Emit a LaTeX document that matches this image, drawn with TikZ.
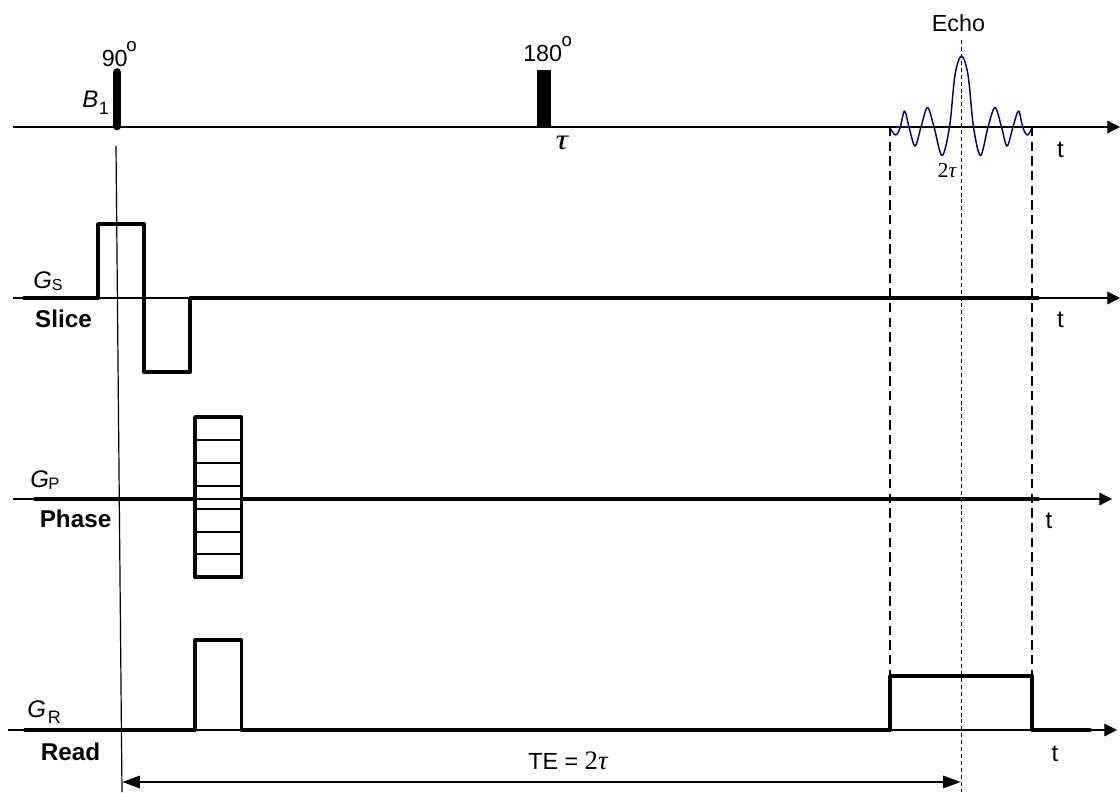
\documentclass[tikz,border=0pt]{standalone}
\usepackage{fontspec}
\setmainfont{Liberation Sans}
\newfontfamily\serifgr{Liberation Serif}
\usetikzlibrary{arrows.meta}
\tikzset{
  x=0.75pt,y=-0.75pt,
  axis/.style={line width=0.9pt,-{Triangle[length=9.5pt,width=9.5pt]}},
  wave/.style={line width=2.9pt,line join=round,line cap=round},
  thinline/.style={line width=0.9pt},
  lab/.style={inner sep=0pt,anchor=base,font=\fontsize{17.5pt}{20pt}\selectfont},
  labw/.style={inner sep=0pt,anchor=base west,font=\fontsize{17.5pt}{20pt}\selectfont},
  blab/.style={lab,font=\fontsize{18.2pt}{20pt}\selectfont\bfseries},
  tlab/.style={lab,font=\fontsize{18pt}{20pt}\selectfont},
  glab/.style={inner sep=0pt,anchor=base west,font=\fontsize{18pt}{20pt}\selectfont},
  gtau/.style={inner sep=0pt,anchor=base,font=\fontsize{22pt}{24pt}\serifgr\itshape},
  dash1/.style={line width=0.85pt,dash pattern=on 7pt off 4pt},
  dash2/.style={line width=0.75pt,dash pattern=on 3pt off 2.2pt},
}
\newcommand{\sbx}[4]{\kern#2\raisebox{#1}{\fontsize{#3}{#3}\selectfont #4}}
\newcommand{\degmark}[2]{\kern#2\raisebox{#1}{\fontsize{14pt}{14pt}\selectfont o}}
\begin{document}
\begin{tikzpicture}
\useasboundingbox (0,0) rectangle (1120,792);
% coordinates
\coordinate (b1s) at (13,127);   \coordinate (b1e) at (1120,127);
\coordinate (gss) at (13,298);   \coordinate (gse) at (1120,298);
\coordinate (gps) at (13,499);   \coordinate (gpe) at (1112,499);
\coordinate (grs) at (8,730);    \coordinate (gre) at (1117,730);
\coordinate (slA) at (116,146);  \coordinate (slB) at (122,792);
\coordinate (d1a) at (890,127);  \coordinate (d1b) at (890,676);
\coordinate (d2a) at (1032,127); \coordinate (d2b) at (1032,676);
\coordinate (d3a) at (961.5,40); \coordinate (d3b) at (961.5,792);
\coordinate (teA) at (122.5,782);\coordinate (teB) at (960.5,782);
% axes
\draw[axis] (b1s) -- (b1e);
\draw[axis] (gss) -- (gse);
\draw[axis] (gps) -- (gpe);
\draw[axis] (grs) -- (gre);
% guides
\draw[thinline] (slA) -- (slB);
\draw[dash1] (d1a) -- (d1b);
\draw[dash1] (d2a) -- (d2b);
\draw[dash2] (d3a) -- (d3b);
\draw[line width=0.8pt,{Triangle[length=13pt,width=9.5pt]}-{Triangle[length=13pt,width=9.5pt]}] (teA) -- (teB);
% RF pulses
\draw[line width=6.6pt,line cap=round] (117,72.5) -- (117,126);
\fill (537,70) rectangle (551,127);
% gradients
\draw[wave] (24,298) -- (98,298) -- (98,224) -- (144,224) -- (144,372) -- (190,372) -- (190,298) -- (1038,298);
\draw[wave] (35,499) -- (195,499);
\draw[wave] (242,499) -- (1038,499);
\draw[wave] (195,417) rectangle (241.5,577);
\foreach \y in {440,463,486,509,532,554} \draw[thinline] (195,\y) -- (241.5,\y);
\draw[wave] (25,730) -- (195,730) -- (195,640) -- (241.5,640) -- (241.5,730) -- (890,730) -- (890,676) -- (1032,676) -- (1032,730) -- (1090,730);
% echo
\draw[color=blue!50!black,line width=1.1pt,line join=round] plot[smooth,tension=0.55] coordinates {
 (890,128) (895.5,135) (900,128) (904.5,111) (909,127) (915,146) (921,127) (927.5,107.5) (934,127) (942,155.5) (949.5,127)
 (955,75) (961.5,56) (968,75) (973.5,127) (980.5,155.5) (988,127) (995,107.5) (1001.5,127) (1007,146) (1013,127) (1018.5,111) (1023,128) (1027.5,135) (1032,128)};
% labels
\node[labw] (n90) at (101.5,66.5) {90\degmark{11pt}{-1pt}};
\node[labw] (n180) at (523,61) {180\degmark{10.5pt}{-0.5pt}};
\node[glab] (nb1) at (82,108) {\textit{B}\sbx{-5pt}{0.5pt}{13.5pt}{1}};
\node[gtau,xscale=1.2] (ntau) at (562,149) {τ};
\node[gtau,font=\fontsize{16pt}{18pt}\serifgr\itshape] (n2tau) at (947,177) {\textup{2}τ};
\node[lab] (necho) at (958.5,32) {Echo};
\node[tlab] (t1) at (1060.5,157) {t};
\node[tlab] (t2) at (1060.5,327) {t};
\node[tlab] (t3) at (1049,528) {t};
\node[tlab] (t4) at (1055,761) {t};
\node[glab] (ngs) at (33,288) {\textit{G}\sbx{-2.2pt}{0pt}{12pt}{S}};
\node[glab] (ngp) at (30,487) {\textit{G}\sbx{-1.5pt}{-0.5pt}{12.5pt}{P}};
\node[glab] (ngr) at (27,717) {\textit{G}\sbx{-4.5pt}{1.5pt}{13.5pt}{R}};
\node[blab] (nslice) at (63.5,327) {Slice};
\node[blab] (nphase) at (75.5,527) {Phase};
\node[blab] (nread) at (70.5,760) {Read};
\node[labw] (nte) at (528,769) {TE = {\fontsize{20pt}{20pt}\serifgr 2\textit{τ}}};
\end{tikzpicture}
\end{document}
